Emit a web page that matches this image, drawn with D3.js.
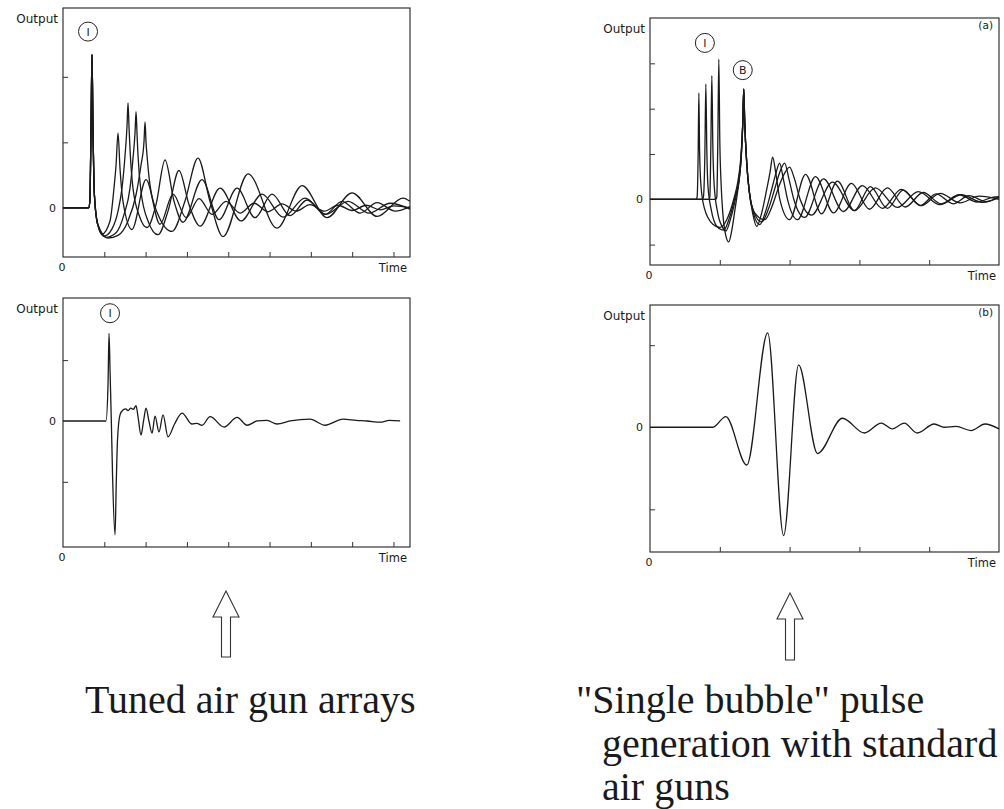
<!DOCTYPE html>
<html>
<head>
<meta charset="utf-8">
<script src="https://cdn.jsdelivr.net/npm/d3@7"></script>
<style>
  body { margin: 0; background: #fff; }
  svg text { fill: #1a1a1a; }
</style>
</head>
<body>
<script>
const wdth = 1004;
const hght = 809;

// time in ms, output in arbitrary pressure units (one left tick = 1)
// tuned array: four guns, common primary pulse, different bubble periods
const tunedA = [[0,0],[31,0],[32.5,0.1],[34,1.3],[35.1,2.34],[36.3,1.2],[38,0.2],[42,-0.25],[47.2,-0.4],[56.9,-0.2],[61.7,0.3],[64.2,0.65],[66.6,1.14],[69,0.6],[72.6,0.1],[83.5,-0.33],[100.5,0.43],[117.4,-0.25],[133.2,0.21],[149,-0.15],[164.7,0.14],[180.4,-0.1],[197.3,0.1],[214.3,-0.08],[231.2,0.07],[248.2,-0.06],[265.1,0.06],[282.1,-0.05],[299,0.05],[316,-0.05],[333,0.04],[350,-0.04],[366.8,0.04],[383.8,-0.03],[400.7,0.03],[420,0]];
const tunedB = [[0,0],[31,0],[32.5,0.1],[34,1.3],[35.1,2.34],[36.3,1.2],[38,0.2],[42,-0.25],[49.6,-0.43],[59.3,-0.32],[66.6,-0.05],[71.4,0.3],[75.1,0.8],[77.5,1.25],[78.7,1.6],[80,1.2],[81.1,0.9],[84.7,0.3],[93.2,-0.15],[101.7,-0.3],[112.6,0.05],[123.5,0.73],[134.4,0.1],[145.3,-0.22],[168.3,0.43],[188.9,-0.18],[210.7,0.3],[232.5,-0.15],[253,0.21],[274.8,-0.12],[295.4,0.12],[317.2,-0.1],[337.8,0.1],[359.6,-0.08],[380.2,0.08],[402,-0.05],[420,0.02]];
const tunedC = [[0,0],[31,0],[32.5,0.1],[34,1.3],[35.1,2.34],[36.3,1.2],[38,0.2],[42,-0.25],[52,-0.45],[64.2,-0.38],[73.9,-0.1],[81.1,0.3],[84.7,0.75],[87.2,1.15],[88.4,1.47],[89.7,1.1],[90.8,0.8],[94.4,0.25],[102.9,-0.2],[115,-0.41],[127.1,-0.05],[140.4,0.57],[152.5,0.05],[165.9,-0.28],[190.1,0.3],[215.5,-0.2],[240.9,0.21],[266.4,-0.14],[293,0.15],[318.4,-0.1],[345,0.1],[370.5,-0.08],[395.9,0.07],[420,-0.02]];
const tunedD = [[0,0],[31,0],[32.5,0.1],[34,1.3],[35.1,2.34],[36.3,1.2],[38,0.2],[42,-0.25],[54.5,-0.46],[66.6,-0.42],[78.7,-0.2],[88.4,0.2],[94.4,0.65],[98,1.0],[99.3,1.31],[100.5,1.0],[101.7,0.8],[105.3,0.35],[115,-0.1],[132,-0.36],[147.6,0.1],[163.4,0.76],[177.9,0.1],[193.7,-0.44],[224,0.52],[259.1,-0.31],[289.4,0.34],[319.6,-0.15],[349.9,0.23],[380.2,-0.13],[411.6,0.15],[420,0.1]];

// tuned array: summed far-field signature
const tunedSum = [[0,0],[52,0],[54.5,0.6],[55.7,1.44],[57,0.8],[58.5,0],[60,-0.9],[63,-1.87],[64.5,-1],[66,-0.3],[69,0.1],[72.6,0.18],[76,0.2],[78.7,0.17],[82,0.21],[85,0.19],[88.4,0.25],[91,0.05],[94.4,-0.23],[97.5,0],[100.5,0.21],[104,0],[107.8,-0.2],[111.4,0.08],[116.2,-0.18],[121.1,0.1],[127.1,-0.26],[135,-0.05],[144.1,0.13],[156.2,-0.05],[162,-0.04],[168.3,-0.07],[178,0.07],[194.9,-0.1],[210.7,0.06],[222.8,-0.07],[235,0],[247,0.01],[259,-0.05],[275,0],[299,0.03],[317.2,-0.07],[339,0.03],[355,0.01],[368,0],[383.8,-0.02],[395,0.01],[408,0]];

// single bubble: four guns fired with delays so the first bubbles line up (B)
const bubbleA = [[0,0],[66,0],[67.5,0.05],[69,1.0],[70,2.35],[71,1.1],[73,0.3],[78,-0.2],[90,-0.55],[100,-0.62],[110,-0.45],[120,0],[126,0.4],[130,0.9],[132.9,1.7],[134.3,2.43],[135.7,1.7],[138.6,0.8],[142,0.2],[147,-0.3],[152.9,-0.6],[160,-0.3],[167,0.2],[172,0.6],[175.7,0.93],[180,0.6],[186,0],[200,-0.45],[222.9,0.55],[245.7,-0.32],[268.6,0.4],[292.9,-0.25],[315.7,0.28],[340,-0.2],[362.9,0.2],[387.1,-0.14],[410,0.12],[434.3,-0.1],[457.1,0.08],[481.4,-0.05],[500,0.06]];
const bubbleB = [[0,0],[75,0],[76.5,0.05],[78.6,1.0],[80,2.54],[81.4,1.1],[83,0.3],[88,-0.25],[96,-0.6],[105.7,-0.68],[114,-0.4],[122,0.05],[127,0.4],[130.5,0.9],[133,1.7],[134.3,2.43],[135.7,1.7],[138.6,0.8],[142,0.2],[148,-0.3],[157.1,-0.56],[166,-0.25],[174,0.2],[180,0.55],[185.7,0.8],[191,0.45],[197,0],[211.4,-0.45],[237.1,0.5],[262.9,-0.3],[288.6,0.35],[314.3,-0.22],[340,0.25],[365.7,-0.17],[391.4,0.15],[417.1,-0.1],[442.9,0.1],[468.6,-0.06],[494.3,0.05],[500,0.05]];
const bubbleC = [[0,0],[84.5,0],[85.7,0.05],[87.1,1.1],[88.6,2.73],[90,1.2],[92,0.3],[97,-0.3],[104,-0.62],[108.6,-0.7],[116,-0.4],[123,0.05],[128,0.45],[131,1.0],[133.2,1.8],[134.3,2.43],[135.7,1.7],[138.6,0.8],[142,0.2],[148,-0.25],[160,-0.5],[170,-0.2],[180,0.3],[186,0.6],[192.9,0.8],[199,0.45],[206,0],[221.4,-0.4],[248.6,0.45],[277.1,-0.27],[304.3,0.3],[332.9,-0.2],[360,0.22],[388.6,-0.14],[415.7,0.13],[444.3,-0.08],[471.4,0.07],[500,0]];
const bubbleD = [[0,0],[94.5,0],[95.7,0.05],[97.1,1.2],[98.6,3.09],[100,1.3],[102,0.3],[104.3,-0.3],[108.6,-0.8],[112.9,-0.94],[117,-0.7],[122,-0.2],[127,0.35],[130.5,0.9],[133.2,1.8],[134.3,2.43],[135.7,1.7],[138.6,0.8],[142,0.2],[150,-0.3],[164.3,-0.45],[175,-0.15],[185,0.3],[192,0.55],[200,0.71],[207,0.45],[215,0],[231.4,-0.35],[261.4,0.38],[292.9,-0.25],[322.9,0.25],[354.3,-0.18],[384.3,0.17],[415.7,-0.12],[445.7,0.1],[477.1,-0.07],[500,0.04]];

// single bubble: summed signature
const bubbleSum = [[0,0],[90,0],[108.6,0.13],[138.6,-0.46],[168.6,1.15],[191.4,-1.32],[212.9,0.76],[240,-0.32],[275.7,0.11],[307.1,-0.07],[331.4,0.05],[347.1,-0.02],[364.3,0.05],[382.9,-0.07],[407.1,0.04],[421.4,0],[438.6,0.01],[460,-0.04],[480,0.04],[500,-0.02]];

const tunedXTicks = [50, 100, 150, 200, 250, 300, 350, 400];
const bubbleXTicks = [100, 200, 300, 400];

const panels = [
  { box: [63, 8, 410, 257], xDom: [0, 420], yDom: [-0.75, 3.05], xTicks: tunedXTicks, yTicks: [1, 2],
    series: [tunedA, tunedB, tunedC, tunedD], marks: [{ t: 30.3, v: 2.69, txt: "I" }], tag: null },
  { box: [63, 298, 410, 547], xDom: [0, 420], yDom: [-2.07, 2.02], xTicks: tunedXTicks, yTicks: [-1, 1],
    series: [tunedSum], marks: [{ t: 56.9, v: 1.77, txt: "I" }], tag: null },
  { box: [650, 18, 999, 265], xDom: [0, 500], yDom: [-1.45, 4.0], xTicks: bubbleXTicks, yTicks: [-1, 1, 2, 3],
    series: [bubbleA, bubbleB, bubbleC, bubbleD], marks: [{ t: 78.6, v: 3.45, txt: "I" }, { t: 132.9, v: 2.85, txt: "B" }], tag: "(a)" },
  { box: [650, 305, 999, 552], xDom: [0, 500], yDom: [-1.52, 1.49], xTicks: bubbleXTicks, yTicks: [-1, 1],
    series: [bubbleSum], marks: [], tag: "(b)" }
];

const sans = "'DejaVu Sans', sans-serif";
const serif = "'Liberation Serif', 'Times New Roman', serif";

const svg = d3.select("body").append("svg")
  .attr("width", wdth)
  .attr("height", hght);

svg.append("rect").attr("width", wdth).attr("height", hght).attr("fill", "#fff");

panels.forEach((p) => {
  const [x0, y0, x1, y1] = p.box;
  const x = d3.scaleLinear().domain(p.xDom).range([x0, x1]);
  const y = d3.scaleLinear().domain(p.yDom).range([y1, y0]);
  const g = svg.append("g");

  g.append("rect")
    .attr("x", x0).attr("y", y0)
    .attr("width", x1 - x0).attr("height", y1 - y0)
    .attr("fill", "none").attr("stroke", "#222").attr("stroke-width", 1.1);

  // inward ticks, no labels
  const xAxis = g.append("g").attr("transform", "translate(0," + y1 + ")")
    .call(d3.axisBottom(x).tickValues(p.xTicks).tickSize(-5).tickFormat(""));
  const yAxis = g.append("g").attr("transform", "translate(" + x0 + ",0)")
    .call(d3.axisLeft(y).tickValues(p.yTicks).tickSize(-5).tickFormat(""));
  [xAxis, yAxis].forEach((a) => {
    a.select(".domain").remove();
    a.selectAll("line").attr("stroke", "#333").attr("stroke-width", 1);
  });

  const line = d3.line()
    .x((d) => x(d[0]))
    .y((d) => y(d[1]))
    .curve(d3.curveMonotoneX);

  g.selectAll("path.trace")
    .data(p.series)
    .enter()
    .append("path")
    .attr("class", "trace")
    .attr("d", line)
    .attr("fill", "none")
    .attr("stroke", "#1a1a1a")
    .attr("stroke-width", 1.3)
    .attr("stroke-linejoin", "round");

  g.append("text").text("Output")
    .attr("x", x0 - 5).attr("y", y0 + 15)
    .attr("text-anchor", "end")
    .style("font-family", sans).style("font-size", "12px");
  g.append("text").text("0")
    .attr("x", x0 - 7).attr("y", y(0)).attr("dy", "0.35em")
    .attr("text-anchor", "end")
    .style("font-family", sans).style("font-size", "11px");
  g.append("text").text("0")
    .attr("x", x(0) - 1).attr("y", y1 + 14)
    .attr("text-anchor", "middle")
    .style("font-family", sans).style("font-size", "11px");
  g.append("text").text("Time")
    .attr("x", x1 - 3).attr("y", y1 + 15)
    .attr("text-anchor", "end")
    .style("font-family", sans).style("font-size", "11.5px");

  if (p.tag) {
    g.append("text").text(p.tag)
      .attr("x", x1 - 6).attr("y", y0 + 11)
      .attr("text-anchor", "end")
      .style("font-family", sans).style("font-size", "10.5px");
  }

  p.marks.forEach((m) => {
    g.append("circle")
      .attr("cx", x(m.t)).attr("cy", y(m.v)).attr("r", 9.5)
      .attr("fill", "#fff").attr("stroke", "#222").attr("stroke-width", 1);
    g.append("text").text(m.txt)
      .attr("x", x(m.t)).attr("y", y(m.v)).attr("dy", "0.36em")
      .attr("text-anchor", "middle")
      .style("font-family", sans).style("font-size", "11px");
  });
});

// hollow up-arrows under each column
function arrow(cx, top, bottom) {
  const hw = 13, sw = 4.5, head = 26;
  const pts = [[cx, top], [cx + hw, top + head], [cx + sw, top + head], [cx + sw, bottom],
               [cx - sw, bottom], [cx - sw, top + head], [cx - hw, top + head]];
  svg.append("path")
    .attr("d", d3.line()(pts) + "Z")
    .attr("fill", "#fff").attr("stroke", "#333").attr("stroke-width", 1.1);
}
arrow(226, 591, 657);
arrow(790, 593, 660);

const captions = [
  { x: 85, y: 713, txt: "Tuned air gun arrays" },
  { x: 576, y: 713, txt: "\"Single bubble\" pulse" },
  { x: 602, y: 757, txt: "generation with standard" },
  { x: 602, y: 800, txt: "air guns" }
];
svg.selectAll("text.caption")
  .data(captions)
  .enter()
  .append("text")
  .attr("class", "caption")
  .attr("x", (d) => d.x)
  .attr("y", (d) => d.y)
  .text((d) => d.txt)
  .style("font-family", serif)
  .style("font-size", "40px");
</script>
</body>
</html>
